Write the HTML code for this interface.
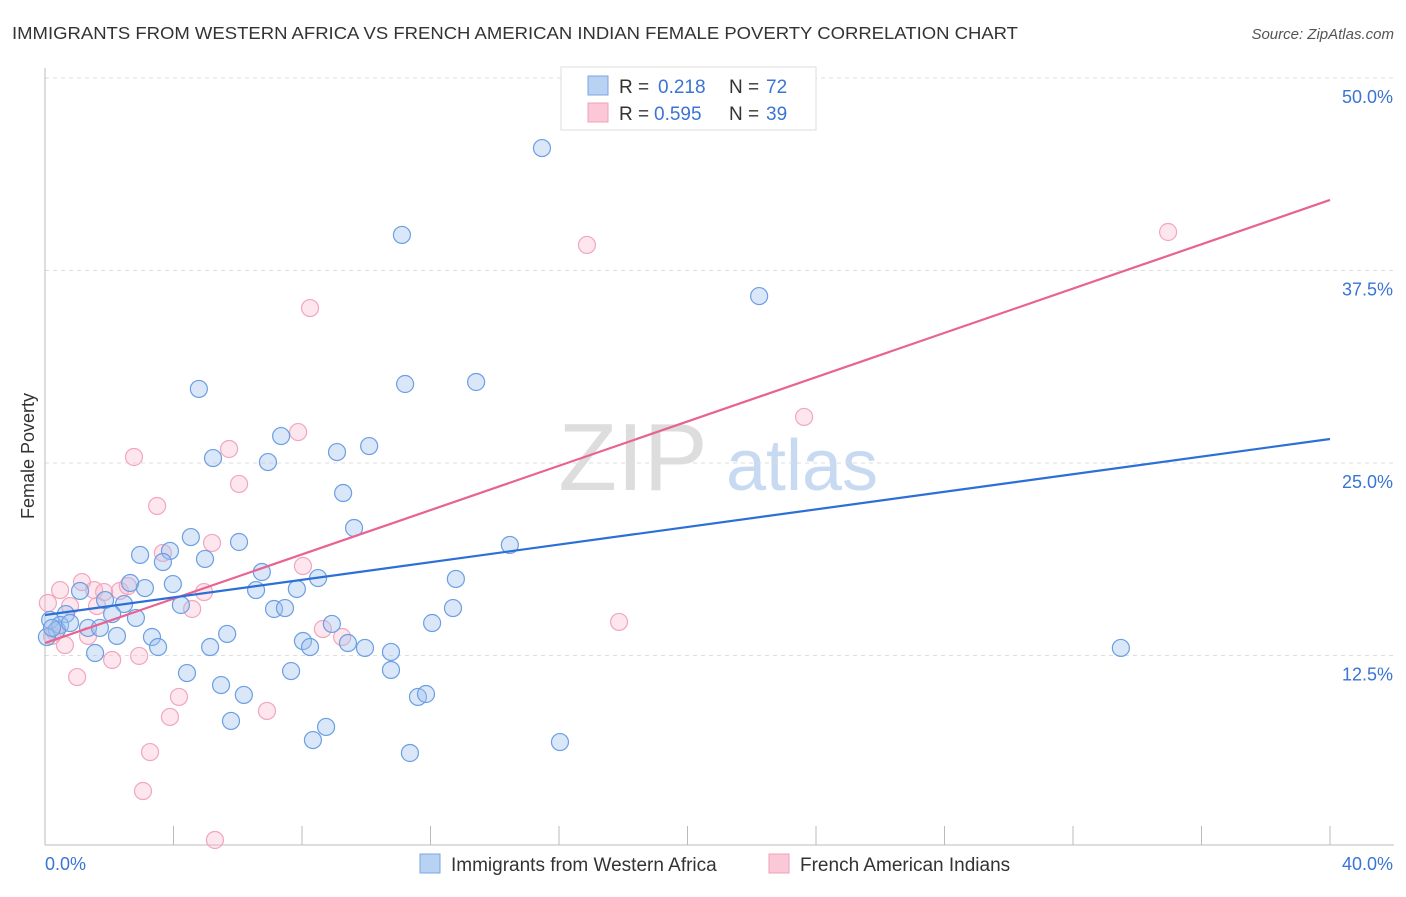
<!DOCTYPE html>
<html><head><meta charset="utf-8"><style>
body{margin:0;background:#fff;font-family:"Liberation Sans",sans-serif;}
svg text{font-family:"Liberation Sans",sans-serif;}
</style></head><body>
<svg width="1406" height="892" xmlns="http://www.w3.org/2000/svg">
<text x="12" y="39" font-size="17.5" fill="#333" textLength="1006" lengthAdjust="spacingAndGlyphs">IMMIGRANTS FROM WESTERN AFRICA VS FRENCH AMERICAN INDIAN FEMALE POVERTY CORRELATION CHART</text>
<text x="1394" y="39" font-size="15" fill="#555" font-style="italic" text-anchor="end">Source: ZipAtlas.com</text>
<text transform="translate(34,456) rotate(-90)" font-size="18" fill="#333" text-anchor="middle">Female Poverty</text>
<g>
<text x="633" y="490" font-size="96" fill="#ddd" font-family="Liberation Serif" text-anchor="middle">ZIP</text>
<text x="802" y="490" font-size="72" fill="#c8daf2" text-anchor="middle">atlas</text>
</g>
<g id="grid"></g>
<g id="axes"></g>
<g id="marks"></g>
<g>
<rect x="561" y="67" width="255" height="63" fill="#fff" stroke="#ddd"/>
<rect x="588" y="76" width="20" height="19" fill="#b8d2f4" stroke="#7aa6e0"/>
<rect x="588" y="103" width="20" height="19" fill="#fac8d6" stroke="#f0a0b8"/>
<g font-size="19">
<text x="619" y="93" fill="#333">R =</text><text x="658" y="93" fill="#3a74d4">0.218</text>
<text x="729" y="93" fill="#333">N =</text><text x="766" y="93" fill="#3a74d4">72</text></g>
<g font-size="19">
<text x="619" y="120" fill="#333">R =</text><text x="654" y="120" fill="#3a74d4">0.595</text>
<text x="729" y="120" fill="#333">N =</text><text x="766" y="120" fill="#3a74d4">39</text></g>
</g>
<g>
<rect x="420" y="854" width="20" height="19" fill="#b8d2f4" stroke="#7aa6e0"/>
<text x="451" y="871" font-size="19" fill="#333">Immigrants from Western Africa</text>
<rect x="769" y="854" width="20" height="19" fill="#fac8d6" stroke="#f0a0b8"/>
<text x="800" y="871" font-size="19" fill="#333">French American Indians</text>
</g>
</svg>
<script>
const yTicks=[12.5,25,37.5,50];
const yTickLabels=["12.5%","25.0%","37.5%","50.0%"];
const xTickCount=10;
const xLabels=["0.0%","40.0%"];
const blueX=[15.47,11.11,22.23,11.21,13.42,4.79,7.35,10.09,5.23,6.94,9.09,9.28,9.62,14.47,4.54,6.04,2.96,3.89,3.67,4.98,6.75,8.50,12.79,2.65,3.11,3.98,1.09,1.87,2.46,4.23,7.84,6.57,7.13,7.47,12.70,2.09,2.83,0.65,0.16,0.47,1.34,1.71,0.37,2.24,3.33,5.67,8.93,3.52,5.14,8.03,8.25,9.43,9.96,12.05,10.77,1.56,4.42,7.66,10.77,5.48,6.19,11.61,11.86,5.79,8.75,8.34,11.36,16.03,33.49,0.06,0.22,0.78];
const blueY=[45.45,39.81,35.84,30.13,30.26,29.81,26.75,26.10,25.32,25.06,25.71,23.05,20.78,19.68,20.19,19.87,19.03,19.29,18.57,18.77,17.92,17.53,17.47,17.21,16.88,17.14,16.69,16.10,15.84,15.78,16.82,16.75,15.52,15.58,15.58,15.19,14.94,15.19,14.81,14.48,14.29,14.29,14.16,13.77,13.70,13.90,14.55,13.05,13.05,13.44,13.05,13.31,12.99,14.61,12.73,12.66,11.36,11.49,11.56,10.58,9.94,9.81,10.00,8.25,7.86,7.01,6.17,6.88,12.99,13.70,14.29,14.61];
const pinkX=[16.87,34.96,8.25,23.63,7.88,5.73,2.77,6.04,3.49,5.20,3.67,8.03,1.15,0.47,1.53,2.33,2.58,1.84,4.95,0.78,1.62,4.58,0.09,0.31,0.62,1.34,2.09,2.93,8.65,9.25,17.87,1.00,4.17,3.89,6.91,3.27,3.05,5.29,0.22];
const pinkY=[39.16,40.00,35.06,27.99,27.01,25.91,25.39,23.64,22.21,19.81,19.16,18.31,17.27,16.75,16.75,16.69,17.01,16.62,16.62,15.71,15.71,15.52,15.91,14.03,13.18,13.77,12.21,12.47,14.22,13.70,14.68,11.10,9.81,8.51,8.90,6.23,3.70,0.52,13.77];
const blueTrend=[15.13,26.56];
const pinkTrend=[13.31,42.08];
const NS="http://www.w3.org/2000/svg";
const X=v=>45+v/40*1285, Y=v=>848-v/50*770;
function mk(t,a,p){const e=document.createElementNS(NS,t);for(const k in a)e.setAttribute(k,a[k]);p.appendChild(e);return e;}
const grid=document.getElementById('grid'),axes=document.getElementById('axes'),marks=document.getElementById('marks');
yTicks.forEach((v,i)=>{
 const l=mk('line',{x1:45,x2:1394,y1:Y(v),y2:Y(v),stroke:'#ddd','stroke-dasharray':'4,4'},grid);
 
 
 const t=mk('text',{x:1393,y:Y(v)+25,'font-size':18,fill:'#3a74d4','text-anchor':'end'},axes);
 t.textContent=yTickLabels[i];
 
 
});
let a=mk('line',{x1:45,x2:45,y1:68,y2:845,stroke:'#bbb'},axes);


a=mk('line',{x1:45,x2:1394,y1:845,y2:845,stroke:'#bbb'},axes);


for(let i=1;i<=xTickCount;i++){const x=X(i*40/xTickCount);const t=mk('line',{x1:x,x2:x,y1:826,y2:845,stroke:'#bbb'},axes);
 
 }
[[X(0),'start',xLabels[0]],[1393,'end',xLabels[1]]].forEach(([x,an,s])=>{const t=mk('text',{x:x,y:870,'font-size':18,fill:'#3a74d4','text-anchor':an},axes);t.textContent=s;
 
 });
pinkX.forEach((v,i)=>{const c=mk('circle',{cx:X(v),cy:Y(pinkY[i]),r:8.5,fill:'rgba(248,182,202,0.35)',stroke:'#f2a6bd','stroke-width':1.2},marks);
 
 });
blueX.forEach((v,i)=>{const c=mk('circle',{cx:X(v),cy:Y(blueY[i]),r:8.5,fill:'rgba(160,196,240,0.4)',stroke:'#6b9fe2','stroke-width':1.2},marks);
 
 });
let tl=mk('line',{x1:X(0),x2:X(40),y1:Y(pinkTrend[0]),y2:Y(pinkTrend[1]),stroke:'#e8638f','stroke-width':2.2},marks);


tl=mk('line',{x1:X(0),x2:X(40),y1:Y(blueTrend[0]),y2:Y(blueTrend[1]),stroke:'#2c6fd6','stroke-width':2.2},marks);


</script>
</body></html>
